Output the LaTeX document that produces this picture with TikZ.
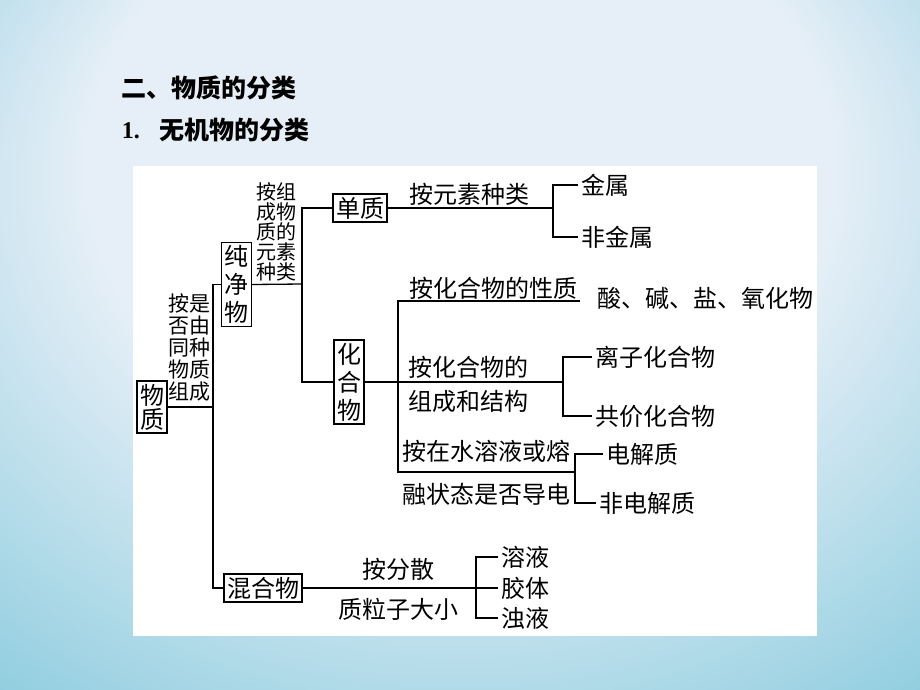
\documentclass[tikz,border=0pt]{standalone}
\usepackage{fontspec}
\setmainfont{Liberation Serif}
\newfontfamily\cjk{Noto Sans CJK SC}
\usepackage{tikz}

\definecolor{bgblue}{RGB}{86,150,205}
\definecolor{bgcyan}{RGB}{140,204,222}
\definecolor{bglight}{RGB}{230,239,247}
\pgfdeclareradialshading{slidebg}{\pgfpoint{0bp}{14bp}}{%
  color(0bp)=(bglight); color(16bp)=(bglight); color(32bp)=(bgcyan); color(50bp)=(bgblue)}

\begin{document}
\begin{tikzpicture}[
    x=1pt, y=-1pt,
    font=\cjk\fontsize{24}{28}\selectfont,
    line width=1.3pt,
    box/.style={rectangle, draw, inner sep=3pt, align=center},
    vbox/.style={box, font=\cjk\fontsize{24}{28}\selectfont},
    lbl/.style={inner sep=0pt},
    pair/.style={inner sep=0pt, align=center, font=\cjk\fontsize{21}{22}\selectfont},
    leaf/.style={anchor=west, inner sep=3pt}
]
    % Background and panel
    \useasboundingbox (0,0) rectangle (920,690);
    \shade[shading=slidebg] (-120,-120) rectangle (1040,810);
    \fill[white] (133,166) rectangle (817,636);

    % Headings
    \node[anchor=west, font=\cjk\bfseries\fontsize{25}{30}\selectfont] (head1) at (118,88) {二、物质的分类};
    \node[anchor=west, font=\bfseries\fontsize{24}{30}\selectfont] (head2) at (118,131) {1.};
    \node[anchor=west, font=\cjk\bfseries\fontsize{25}{30}\selectfont] (head3) at (156,130) {无机物的分类};

    % Boxes
    \node[box, font=\cjk\fontsize{24}{24}\selectfont] (wuzhi) at (152,407) {物\\质};
    \node[vbox] (chun) at (236.5,284.5) {纯\\净\\物};
    \node[box] (dan) at (360,208) {单质};
    \node[vbox] (hua) at (349,382) {化\\合\\物};
    \node[box] (hun) at (263,588) {混合物};

    % Criteria texts
    \node[pair] (c1) at (189,348) {按是\\否由\\同种\\物质\\组成};
    \node[pair, font=\cjk\fontsize{20}{20}\selectfont] (c2) at (276,232) {按组\\成物\\质的\\元素\\种类};
    \node[lbl] (c3) at (469,194) {按元素种类};
    \node[lbl] (c4) at (493,288) {按化合物的性质};
    \node[lbl] (c5a) at (468,367) {按化合物的};
    \node[lbl] (c5b) at (468,401) {组成和结构};
    \node[lbl] (c6a) at (486,451) {按在水溶液或熔};
    \node[lbl] (c6b) at (486,494) {融状态是否导电};
    \node[lbl] (c7a) at (398,569) {按分散};
    \node[lbl] (c7b) at (398,609) {质粒子大小};

    % Leaves
    \node[leaf] (jinshu) at (578,185) {金属};
    \node[leaf] (feijin) at (578,237) {非金属};
    \node[lbl] (suan) at (705,298) {酸、碱、盐、氧化物};
    \node[leaf] (lizi) at (592,357) {离子化合物};
    \node[leaf] (gongjia) at (592,416) {共价化合物};
    \node[leaf] (dianjie) at (603,454) {电解质};
    \node[leaf] (feidian) at (596,503) {非电解质};
    \node[leaf] (rongye) at (498,557) {溶液};
    \node[leaf] (jiaoti) at (498,588) {胶体};
    \node[leaf] (zhuoye) at (498,618) {浊液};

    % Junction points
    \coordinate (s1) at (213,407);
    \coordinate (s2) at (302,284);
    \coordinate (b1) at (553,208);
    \coordinate (s3) at (398,382);
    \coordinate (b2) at (563,382);
    \coordinate (xz) at (580,301);
    \coordinate (b3) at (575,472);
    \coordinate (b4) at (476,588);

    % Connectors
    \draw (wuzhi.east) -- (s1);
    \draw (chun.west) -| (s1) |- (hun.west);
    \draw (chun.east) -- (s2);
    \draw (dan.west) -| (s2) |- (hua.west);
    \draw (dan.east) -- (b1);
    \draw (jinshu.west) -| (b1) |- (feijin.west);
    \draw (hua.east) -- (b2);
    \draw (xz) -| (s3) |- (b3);
    \draw (lizi.west) -| (b2) |- (gongjia.west);
    \draw (dianjie.west) -| (b3) |- (feidian.west);
    \draw (hun.east) -- (b4);
    \draw (rongye.west) -| (b4) |- (zhuoye.west);
    \draw (b4) -- (jiaoti.west);
\end{tikzpicture}
\end{document}
